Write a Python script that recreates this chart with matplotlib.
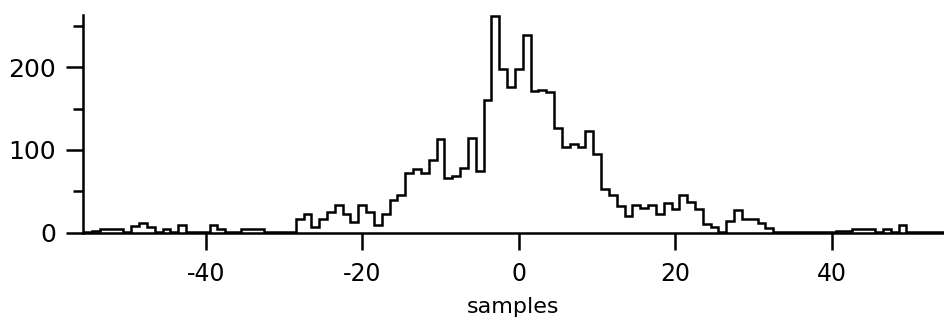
import matplotlib.pyplot as plt
import numpy as np

# histogram of lag (samples), one bin per integer sample from -55 to 54
first_bin = -55
counts = [
    1, 2, 5, 5, 5, 1, 8, 12, 7, 1,          # -55 .. -46
    4, 1, 9, 1, 1, 1, 9, 5, 1, 1,           # -45 .. -36
    5, 5, 5, 1, 1, 1, 1, 16, 22, 7,         # -35 .. -26
    17, 25, 33, 23, 13, 33, 25, 9, 23, 39,  # -25 .. -16
    45, 72, 77, 72, 88, 113, 66, 68, 78, 114,  # -15 .. -6
    75, 160, 262, 198, 176, 198, 239, 171, 173, 170,  # -5 .. 4
    127, 104, 107, 104, 123, 95, 53, 45, 32, 20,  # 5 .. 14
    33, 30, 33, 23, 36, 29, 45, 37, 29, 10,  # 15 .. 24
    7, 1, 14, 28, 17, 16, 12, 6, 1, 1,      # 25 .. 34
    1, 1, 1, 1, 1, 1, 2, 2, 5, 5,           # 35 .. 44
    5, 1, 5, 1, 9, 1, 1, 1, 1, 1,           # 45 .. 54
]

x_ticks = [-40, -20, 0, 20, 40]
y_major = [0, 100, 200]
y_minor = [50, 150, 250]

plt.rcParams['font.family'] = 'DejaVu Sans'

fig = plt.figure(figsize=(9.44, 3.27), dpi=100)
ax = fig.add_axes([0.0876, 0.2884, 0.9124, 0.6657])

edges = np.arange(len(counts) + 1) + first_bin - 0.5
ax.stairs(counts, edges, color='black', linewidth=1.8)

ax.set_xlim(-55.7, 54.3)
ax.set_ylim(0, 263)

for side in ['top', 'right']:
    ax.spines[side].set_visible(False)
ax.spines['left'].set_linewidth(1.8)
ax.spines['bottom'].set_linewidth(1.8)

# plain hyphen minus, as in the original
ax.set_xticks(x_ticks)
ax.set_xticklabels([str(t) for t in x_ticks])
ax.set_yticks(y_major)
ax.set_yticks(y_minor, minor=True)
ax.tick_params(axis='x', length=12, width=1.8, labelsize=17, pad=9)
ax.tick_params(axis='y', which='major', length=12, width=1.8, labelsize=18, pad=7)
ax.tick_params(axis='y', which='minor', length=7, width=1.8)

ax.set_xlabel('samples', fontsize=16, labelpad=8)

fig.savefig('out.png', dpi=100)
